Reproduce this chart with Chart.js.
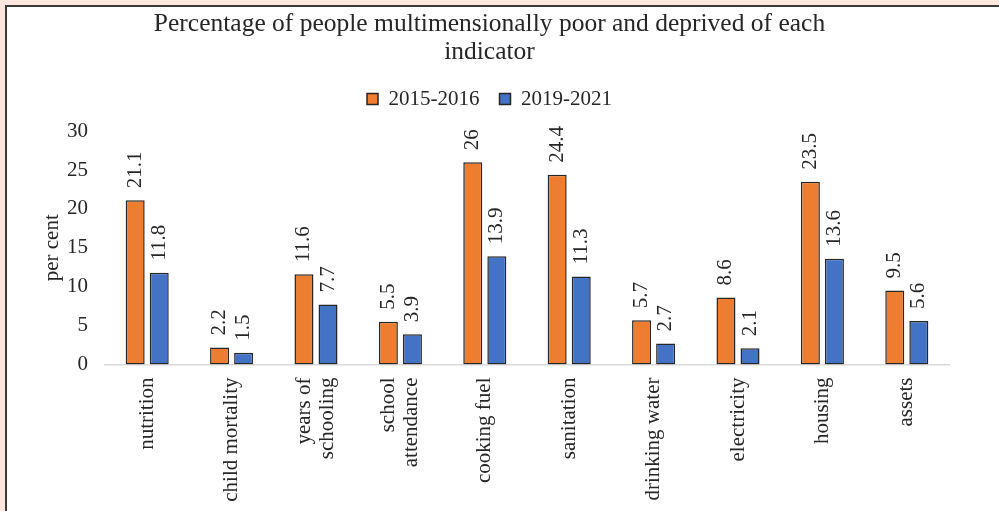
<!DOCTYPE html>
<html>
<head>
<meta charset="utf-8">
<title>Multidimensional poverty by indicator</title>
<script src="https://cdn.jsdelivr.net/npm/chart.js"></script>
<style>
  html, body { margin: 0; padding: 0; background: #fde6de; overflow: hidden; }
  #frame { position: absolute; left: 5px; top: 5px; width: 1010px; height: 520px; background: #fff;
           border-left: 2px solid #3a3a3a; border-top: 2px solid #3a3a3a; }
  #wrap { position: absolute; left: 0; top: 0; width: 999px; height: 511px; }
</style>
</head>
<body>
<div id="frame"></div>
<div id="wrap"><canvas id="povertyChart" width="999" height="511"></canvas></div>

<script>
// categories and values
const indicators = ['nutrition', 'child mortality', ['years of', 'schooling'], ['school', 'attendance'],
  'cooking fuel', 'sanitation', 'drinking water', 'electricity', 'housing', 'assets'];
const round1Label = '2015-2016';
const round1Values = [21.1, 2.2, 11.6, 5.5, 26, 24.4, 5.7, 8.6, 23.5, 9.5];
const round2Label = '2019-2021';
const round2Values = [11.8, 1.5, 7.7, 3.9, 13.9, 11.3, 2.7, 2.1, 13.6, 5.6];
const yMin = 0, yMax = 30, yStep = 5;

const serif = '"Liberation Serif", "Times New Roman", serif';
const textColor = '#262626';

// rotated value labels above each bar
const barValueLabels = {
  id: 'barValueLabels',
  afterDatasetsDraw(chart) {
    const ctx = chart.ctx;
    ctx.save();
    ctx.font = '21px ' + serif;
    ctx.fillStyle = textColor;
    ctx.textAlign = 'left';
    ctx.textBaseline = 'middle';
    chart.data.datasets.forEach((ds, i) => {
      chart.getDatasetMeta(i).data.forEach((bar, j) => {
        ctx.save();
        ctx.translate(bar.x, bar.y - 12);
        ctx.rotate(-Math.PI / 2);
        ctx.fillText(String(ds.data[j]), 0, 0);
        ctx.restore();
      });
    });
    ctx.restore();
  }
};

// two-line rotated tick labels start at the tick, so pull them back to be centred on it
const centerMultiLineTicks = {
  id: 'centerMultiLineTicks',
  beforeDraw(chart) {
    chart.scales.x.getLabelItems().forEach(item => {
      if (Array.isArray(item.label) && !item.centered) {
        item.options.translation[0] -= item.font.lineHeight * (item.label.length - 1) / 2;
        item.centered = true;
      }
    });
  }
};

const ctx = document.getElementById('povertyChart').getContext('2d');
const povertyChart = new Chart(ctx, {
  type: 'bar',
  data: {
    labels: indicators,
    datasets: [{
      label: round1Label,
      data: round1Values,
      backgroundColor: '#ed7d31',
      borderColor: '#262626',
      borderWidth: 1.5,
      borderSkipped: false,
      categoryPercentage: 0.57,
      barPercentage: 0.79
    }, {
      label: round2Label,
      data: round2Values,
      backgroundColor: '#4472c4',
      borderColor: '#262626',
      borderWidth: 1.5,
      borderSkipped: false,
      categoryPercentage: 0.57,
      barPercentage: 0.79
    }]
  },
  options: {
    responsive: false,
    animation: false,
    layout: { padding: { left: 30, right: 50, top: 0, bottom: 0 } },
    plugins: {
      title: {
        display: true,
        text: ['Percentage of people multimensionally poor and deprived of each', 'indicator'],
        color: textColor,
        font: { family: serif, size: 25.5, weight: 'normal', lineHeight: 1.1 },
        padding: { top: 10.5, bottom: 2 }
      },
      legend: {
        display: true,
        labels: {
          boxWidth: 11,
          boxHeight: 11,
          padding: 20,
          color: textColor,
          font: { family: serif, size: 21 }
        }
      },
      // empty spacer between the legend and the plot
      subtitle: {
        display: true,
        text: '',
        weight: 500,
        font: { size: 10, lineHeight: 1.15 },
        padding: 0
      },
      tooltip: { enabled: false }
    },
    scales: {
      x: {
        grid: { display: false, drawTicks: false },
        border: { display: true, color: '#d9d9d9', width: 1.5 },
        ticks: {
          minRotation: 90,
          maxRotation: 90,
          autoSkip: false,
          padding: 13,
          color: textColor,
          font: { family: serif, size: 21, lineHeight: 1.1 }
        },
        afterFit(scale) { scale.height = 146.5; }
      },
      y: {
        min: yMin,
        max: yMax,
        grid: { display: false, drawTicks: false },
        border: { display: false },
        ticks: {
          stepSize: yStep,
          padding: 17,
          color: textColor,
          font: { family: serif, size: 21 }
        },
        title: {
          display: true,
          text: 'per cent',
          color: textColor,
          font: { family: serif, size: 21 },
          padding: { top: 9.4, bottom: 0 }
        },
        afterFit(scale) { scale.width = 75; }
      }
    }
  },
  plugins: [barValueLabels, centerMultiLineTicks]
});
</script>
</body>
</html>
